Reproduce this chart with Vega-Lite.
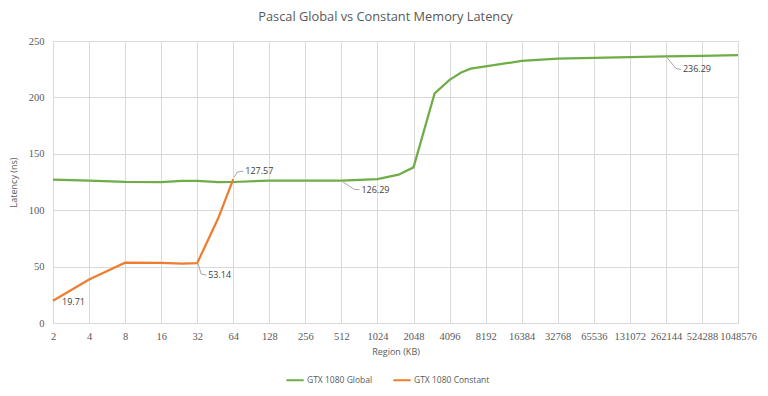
{
  "$schema": "https://vega.github.io/schema/vega-lite/v6.json",
  "autosize": "none",
  "width": 685,
  "height": 282,
  "padding": {"left": 53, "top": 41, "right": 30, "bottom": 73},
  "background": "white",
  "title": {
    "text": "Pascal Global vs Constant Memory Latency",
    "font": "Open Sans",
    "fontSize": 12.8,
    "fontWeight": "normal",
    "color": "#595959",
    "dx": -10,
    "offset": 12
  },
  "config": {
    "view": {"stroke": null},
    "font": "Open Sans",
    "axis": {
      "labelFont": "Liberation Sans Narrow",
      "labelFontSize": 10.5,
      "labelColor": "#595959",
      "titleFont": "Open Sans",
      "titleFontSize": 9,
      "titleFontWeight": "normal",
      "titleColor": "#595959",
      "gridColor": "#d9d9d9",
      "gridWidth": 1,
      "ticks": false,
      "domain": false
    }
  },
  "data": {
    "values": [
      {"series": "GTX 1080 Global", "kb": 2, "latency": 127.0},
      {"series": "GTX 1080 Global", "kb": 4, "latency": 126.2},
      {"series": "GTX 1080 Global", "kb": 8, "latency": 125.1},
      {"series": "GTX 1080 Global", "kb": 16, "latency": 125.0},
      {"series": "GTX 1080 Global", "kb": 24, "latency": 126.0},
      {"series": "GTX 1080 Global", "kb": 32, "latency": 126.1},
      {"series": "GTX 1080 Global", "kb": 48, "latency": 124.9},
      {"series": "GTX 1080 Global", "kb": 64, "latency": 125.0},
      {"series": "GTX 1080 Global", "kb": 128, "latency": 126.2},
      {"series": "GTX 1080 Global", "kb": 256, "latency": 126.29},
      {"series": "GTX 1080 Global", "kb": 512, "latency": 126.29, "label": "126.29"},
      {"series": "GTX 1080 Global", "kb": 1024, "latency": 127.5},
      {"series": "GTX 1080 Global", "kb": 1536, "latency": 131.5},
      {"series": "GTX 1080 Global", "kb": 2048, "latency": 138.0},
      {"series": "GTX 1080 Global", "kb": 3072, "latency": 203.5},
      {"series": "GTX 1080 Global", "kb": 4096, "latency": 215.5},
      {"series": "GTX 1080 Global", "kb": 5120, "latency": 222.0},
      {"series": "GTX 1080 Global", "kb": 6144, "latency": 225.5},
      {"series": "GTX 1080 Global", "kb": 8192, "latency": 227.5},
      {"series": "GTX 1080 Global", "kb": 16384, "latency": 232.3},
      {"series": "GTX 1080 Global", "kb": 32768, "latency": 234.3},
      {"series": "GTX 1080 Global", "kb": 65536, "latency": 235.0},
      {"series": "GTX 1080 Global", "kb": 131072, "latency": 235.8},
      {"series": "GTX 1080 Global", "kb": 262144, "latency": 236.29, "label": "236.29"},
      {"series": "GTX 1080 Global", "kb": 524288, "latency": 236.8},
      {"series": "GTX 1080 Global", "kb": 1048576, "latency": 237.4},
      {"series": "GTX 1080 Constant", "kb": 2, "latency": 19.71, "label": "19.71"},
      {"series": "GTX 1080 Constant", "kb": 4, "latency": 38.5},
      {"series": "GTX 1080 Constant", "kb": 8, "latency": 53.5},
      {"series": "GTX 1080 Constant", "kb": 16, "latency": 53.4},
      {"series": "GTX 1080 Constant", "kb": 24, "latency": 52.6},
      {"series": "GTX 1080 Constant", "kb": 32, "latency": 53.14, "label": "53.14"},
      {"series": "GTX 1080 Constant", "kb": 48, "latency": 93.0},
      {"series": "GTX 1080 Constant", "kb": 64, "latency": 127.57, "label": "127.57"}
    ]
  },
  "layer": [
    {
      "mark": {"type": "line", "strokeWidth": 2.25},
      "encoding": {
        "x": {
          "field": "kb", "type": "quantitative",
          "scale": {"type": "log", "base": 2, "domain": [2, 1048576], "nice": false},
          "axis": {
            "title": "Region (KB)",
            "values": [2,4,8,16,32,64,128,256,512,1024,2048,4096,8192,16384,32768,65536,131072,262144,524288,1048576],
            "format": "d",
            "labelPadding": 8,
            "titlePadding": 6,
            "labelFlush": false,
            "labelOverlap": false,
            "domain": true,
            "domainColor": "#d9d9d9"
          }
        },
        "y": {
          "field": "latency", "type": "quantitative",
          "scale": {"domain": [0, 250], "nice": false},
          "axis": {"title": "Latency (ns)", "values": [0,50,100,150,200,250], "labelPadding": 9, "titlePadding": 10}
        },
        "color": {
          "field": "series", "type": "nominal",
          "scale": {"domain": ["GTX 1080 Global", "GTX 1080 Constant"], "range": ["#70ad47", "#ed7d31"]},
          "legend": {
            "title": null,
            "orient": "none",
            "legendX": 232,
            "legendY": 329,
            "direction": "horizontal",
            "symbolType": "stroke",
            "symbolStrokeWidth": 2,
            "symbolSize": 300,
            "labelFont": "Open Sans",
            "labelFontSize": 8.5,
            "labelColor": "#595959",
            "labelOffset": 2,
            "columnPadding": 16
          }
        }
      }
    },
    {
      "transform": [{"filter": "datum.label == '53.14'"}],
      "mark": {"type": "rule", "color": "#a6a6a6", "strokeWidth": 1, "xOffset": 1, "yOffset": 1, "x2Offset": 4, "y2Offset": 11},
      "encoding": {"x": {"field": "kb", "type": "quantitative"}, "y": {"field": "latency", "type": "quantitative"}, "x2": {"field": "kb"}, "y2": {"field": "latency"}}
    },
    {
      "transform": [{"filter": "datum.label == '53.14'"}],
      "mark": {"type": "rule", "color": "#a6a6a6", "strokeWidth": 1, "xOffset": 4, "yOffset": 11, "x2Offset": 9, "y2Offset": 12},
      "encoding": {"x": {"field": "kb", "type": "quantitative"}, "y": {"field": "latency", "type": "quantitative"}, "x2": {"field": "kb"}, "y2": {"field": "latency"}}
    },
    {
      "transform": [{"filter": "datum.label == '127.57'"}],
      "mark": {"type": "rule", "color": "#a6a6a6", "strokeWidth": 1, "xOffset": 1, "yOffset": -2, "x2Offset": 4, "y2Offset": -7},
      "encoding": {"x": {"field": "kb", "type": "quantitative"}, "y": {"field": "latency", "type": "quantitative"}, "x2": {"field": "kb"}, "y2": {"field": "latency"}}
    },
    {
      "transform": [{"filter": "datum.label == '127.57'"}],
      "mark": {"type": "rule", "color": "#a6a6a6", "strokeWidth": 1, "xOffset": 4, "yOffset": -7, "x2Offset": 10, "y2Offset": -8},
      "encoding": {"x": {"field": "kb", "type": "quantitative"}, "y": {"field": "latency", "type": "quantitative"}, "x2": {"field": "kb"}, "y2": {"field": "latency"}}
    },
    {
      "transform": [{"filter": "datum.label == '126.29'"}],
      "mark": {"type": "rule", "color": "#a6a6a6", "strokeWidth": 1, "xOffset": 1, "yOffset": 1, "x2Offset": 13, "y2Offset": 9},
      "encoding": {"x": {"field": "kb", "type": "quantitative"}, "y": {"field": "latency", "type": "quantitative"}, "x2": {"field": "kb"}, "y2": {"field": "latency"}}
    },
    {
      "transform": [{"filter": "datum.label == '126.29'"}],
      "mark": {"type": "rule", "color": "#a6a6a6", "strokeWidth": 1, "xOffset": 13, "yOffset": 9, "x2Offset": 18, "y2Offset": 9},
      "encoding": {"x": {"field": "kb", "type": "quantitative"}, "y": {"field": "latency", "type": "quantitative"}, "x2": {"field": "kb"}, "y2": {"field": "latency"}}
    },
    {
      "transform": [{"filter": "datum.label == '236.29'"}],
      "mark": {"type": "rule", "color": "#a6a6a6", "strokeWidth": 1, "xOffset": 1, "yOffset": 1, "x2Offset": 10, "y2Offset": 12},
      "encoding": {"x": {"field": "kb", "type": "quantitative"}, "y": {"field": "latency", "type": "quantitative"}, "x2": {"field": "kb"}, "y2": {"field": "latency"}}
    },
    {
      "transform": [{"filter": "datum.label == '236.29'"}],
      "mark": {"type": "rule", "color": "#a6a6a6", "strokeWidth": 1, "xOffset": 10, "yOffset": 12, "x2Offset": 15, "y2Offset": 13},
      "encoding": {"x": {"field": "kb", "type": "quantitative"}, "y": {"field": "latency", "type": "quantitative"}, "x2": {"field": "kb"}, "y2": {"field": "latency"}}
    },
    {
      "transform": [{"filter": "datum.label == '19.71'"}],
      "mark": {"type": "text", "align": "left", "dx": 9, "dy": 1, "font": "Open Sans", "fontSize": 9, "color": "#404040"},
      "encoding": {"x": {"field": "kb", "type": "quantitative"}, "y": {"field": "latency", "type": "quantitative"}, "text": {"field": "label"}}
    },
    {
      "transform": [{"filter": "datum.label == '53.14'"}],
      "mark": {"type": "text", "align": "left", "dx": 11, "dy": 12, "font": "Open Sans", "fontSize": 9, "color": "#404040"},
      "encoding": {"x": {"field": "kb", "type": "quantitative"}, "y": {"field": "latency", "type": "quantitative"}, "text": {"field": "label"}}
    },
    {
      "transform": [{"filter": "datum.label == '127.57'"}],
      "mark": {"type": "text", "align": "left", "dx": 12, "dy": -8, "font": "Open Sans", "fontSize": 9, "color": "#404040"},
      "encoding": {"x": {"field": "kb", "type": "quantitative"}, "y": {"field": "latency", "type": "quantitative"}, "text": {"field": "label"}}
    },
    {
      "transform": [{"filter": "datum.label == '126.29'"}],
      "mark": {"type": "text", "align": "left", "dx": 20, "dy": 9, "font": "Open Sans", "fontSize": 9, "color": "#404040"},
      "encoding": {"x": {"field": "kb", "type": "quantitative"}, "y": {"field": "latency", "type": "quantitative"}, "text": {"field": "label"}}
    },
    {
      "transform": [{"filter": "datum.label == '236.29'"}],
      "mark": {"type": "text", "align": "left", "dx": 17, "dy": 13, "font": "Open Sans", "fontSize": 9, "color": "#404040"},
      "encoding": {"x": {"field": "kb", "type": "quantitative"}, "y": {"field": "latency", "type": "quantitative"}, "text": {"field": "label"}}
    }
  ]
}
